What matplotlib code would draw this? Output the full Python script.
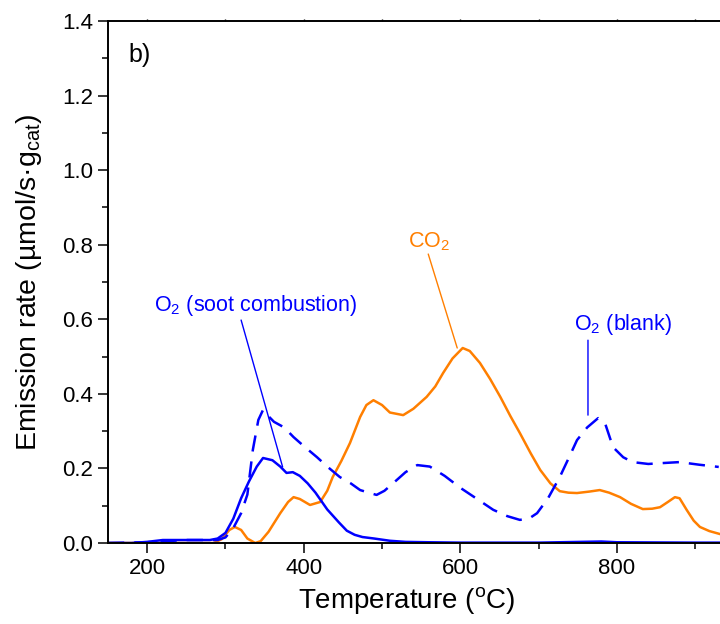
import matplotlib
matplotlib.use('Agg')
import matplotlib.pyplot as plt

plt.rcParams['font.family'] = ['Liberation Sans', 'DejaVu Sans']
plt.rcParams['mathtext.fontset'] = 'custom'
plt.rcParams['mathtext.rm'] = 'Liberation Sans'
plt.rcParams['mathtext.it'] = 'Liberation Sans'

# O2 (soot combustion), solid blue
t_soot = [150, 180, 200, 220, 250, 280, 290, 300, 310, 320, 330, 340, 348, 360, 370, 378, 386,
          395, 405, 415, 430, 445, 455, 465, 475, 490, 510, 530, 560, 600, 700, 780, 800, 900, 950]
o2_soot = [0.0, 0.0, 0.003, 0.008, 0.008, 0.008, 0.012, 0.027, 0.065, 0.12, 0.165, 0.205, 0.228,
           0.222, 0.205, 0.188, 0.19, 0.18, 0.16, 0.135, 0.09, 0.055, 0.033, 0.022, 0.016, 0.012,
           0.006, 0.003, 0.002, 0.001, 0.001, 0.004, 0.002, 0.001, 0.001]

# O2 (blank), dashed blue
t_blank = [150, 200, 250, 280, 290, 300, 310, 320, 328, 335, 342, 348, 355, 362, 375, 387, 400,
           417, 430, 446, 460, 472, 483, 493, 503, 514, 530, 545, 561, 580, 600, 620, 642, 660,
           676, 688, 698, 712, 727, 740, 749, 762, 776, 785, 795, 808, 820, 840, 855, 880, 905, 930]
o2_blank = [0.0, 0.002, 0.008, 0.008, 0.008, 0.015, 0.04, 0.08, 0.13, 0.25, 0.33, 0.357, 0.34,
            0.325, 0.31, 0.284, 0.26, 0.23, 0.205, 0.177, 0.16, 0.142, 0.135, 0.129, 0.14, 0.16,
            0.19, 0.209, 0.205, 0.18, 0.148, 0.12, 0.089, 0.072, 0.062, 0.066, 0.08, 0.12, 0.177,
            0.235, 0.276, 0.31, 0.335, 0.32, 0.257, 0.23, 0.217, 0.212, 0.214, 0.217, 0.21, 0.204]

# CO2, orange
t_co2 = [150, 200, 250, 285, 295, 305, 312, 320, 328, 338, 345, 355, 370, 380, 387, 395, 408,
         421, 430, 437, 448, 459, 472, 480, 489, 500, 510, 527, 540, 557, 568, 578, 590, 603,
         612, 625, 638, 651, 664, 676, 690, 702, 715, 727, 738, 749, 765, 778, 790, 804, 818,
         833, 845, 855, 865, 874, 880, 889, 898, 906, 918, 935]
co2 = [0, 0, 0, 0, 0.01, 0.035, 0.043, 0.035, 0.012, 0.0, 0.005, 0.03, 0.08, 0.11, 0.123, 0.118,
       0.102, 0.11, 0.14, 0.177, 0.22, 0.268, 0.338, 0.37, 0.383, 0.37, 0.35, 0.343, 0.36, 0.392,
       0.42, 0.456, 0.495, 0.523, 0.515, 0.483, 0.44, 0.392, 0.34, 0.295, 0.24, 0.196, 0.16, 0.139,
       0.135, 0.134, 0.138, 0.142, 0.135, 0.123, 0.105, 0.091, 0.092, 0.096, 0.11, 0.123, 0.12,
       0.089, 0.06, 0.043, 0.032, 0.022]

blue = '#0000FF'
orange = '#FF7F00'

fig = plt.figure(figsize=(7.2, 6.24), dpi=100)
# axes runs past the right edge of the figure, like the cropped original
ax = fig.add_axes([0.15, 0.1298, 0.87, 0.8365])

ax.plot(t_co2, co2, color=orange, lw=1.8)
ax.plot(t_blank, o2_blank, color=blue, lw=1.8, dashes=(6.5, 4))
ax.plot(t_soot, o2_soot, color=blue, lw=1.8)

ax.set_xlim(150, 950)
ax.set_ylim(0, 1.4)
ax.set_xticks([200, 400, 600, 800])
ax.set_xticks([300, 500, 700, 900], minor=True)
ax.set_yticks([0.0, 0.2, 0.4, 0.6, 0.8, 1.0, 1.2, 1.4])
ax.set_yticks([0.1, 0.3, 0.5, 0.7, 0.9, 1.1, 1.3], minor=True)
ax.yaxis.set_major_formatter(matplotlib.ticker.FormatStrFormatter('%.1f'))
ax.tick_params(which='major', direction='out', length=7, width=1.1, labelsize=16)
ax.tick_params(which='minor', direction='out', length=4, width=1.1)
ax.spines['right'].set_visible(False)
for s in ['left', 'bottom', 'top']:
    ax.spines[s].set_linewidth(1.4)

# small ticks on the top spine
top = ax.secondary_xaxis('top')
top.set_xticks([200, 300, 400, 500, 600, 700, 800, 900])
top.set_xticklabels([])
top.tick_params(direction='out', length=1.5, width=1)
top.spines['top'].set_visible(False)

ax.set_xlabel('Temperature ($^{\\rm o}$C)', fontsize=20)
ax.xaxis.set_label_coords(0.477, -0.08)
ax.set_ylabel('Emission rate (µmol/s·g$_{\\rm cat}$)', fontsize=20.5)
ax.yaxis.set_label_coords(-0.102, 0.5)

ax.text(0.032, 0.935, 'b)', transform=ax.transAxes, fontsize=18, va='center')

line_kw = dict(arrowstyle='-', lw=1, shrinkA=0, shrinkB=0)
ax.annotate('', xy=(373, 0.204), xytext=(320, 0.598), arrowprops=dict(color=blue, **line_kw))
ax.annotate('', xy=(596, 0.523), xytext=(559, 0.775), arrowprops=dict(color=orange, **line_kw))
ax.annotate('', xy=(763, 0.343), xytext=(763, 0.544), arrowprops=dict(color=blue, **line_kw))
ax.text(338, 0.638, 'O$_2$ (soot combustion)', color=blue, fontsize=15.5, ha='center', va='center')
ax.text(560, 0.807, 'CO$_2$', color=orange, fontsize=15.5, ha='center', va='center')
ax.text(808, 0.585, 'O$_2$ (blank)', color=blue, fontsize=15.5, ha='center', va='center')

fig.savefig('out.png', dpi=100)
